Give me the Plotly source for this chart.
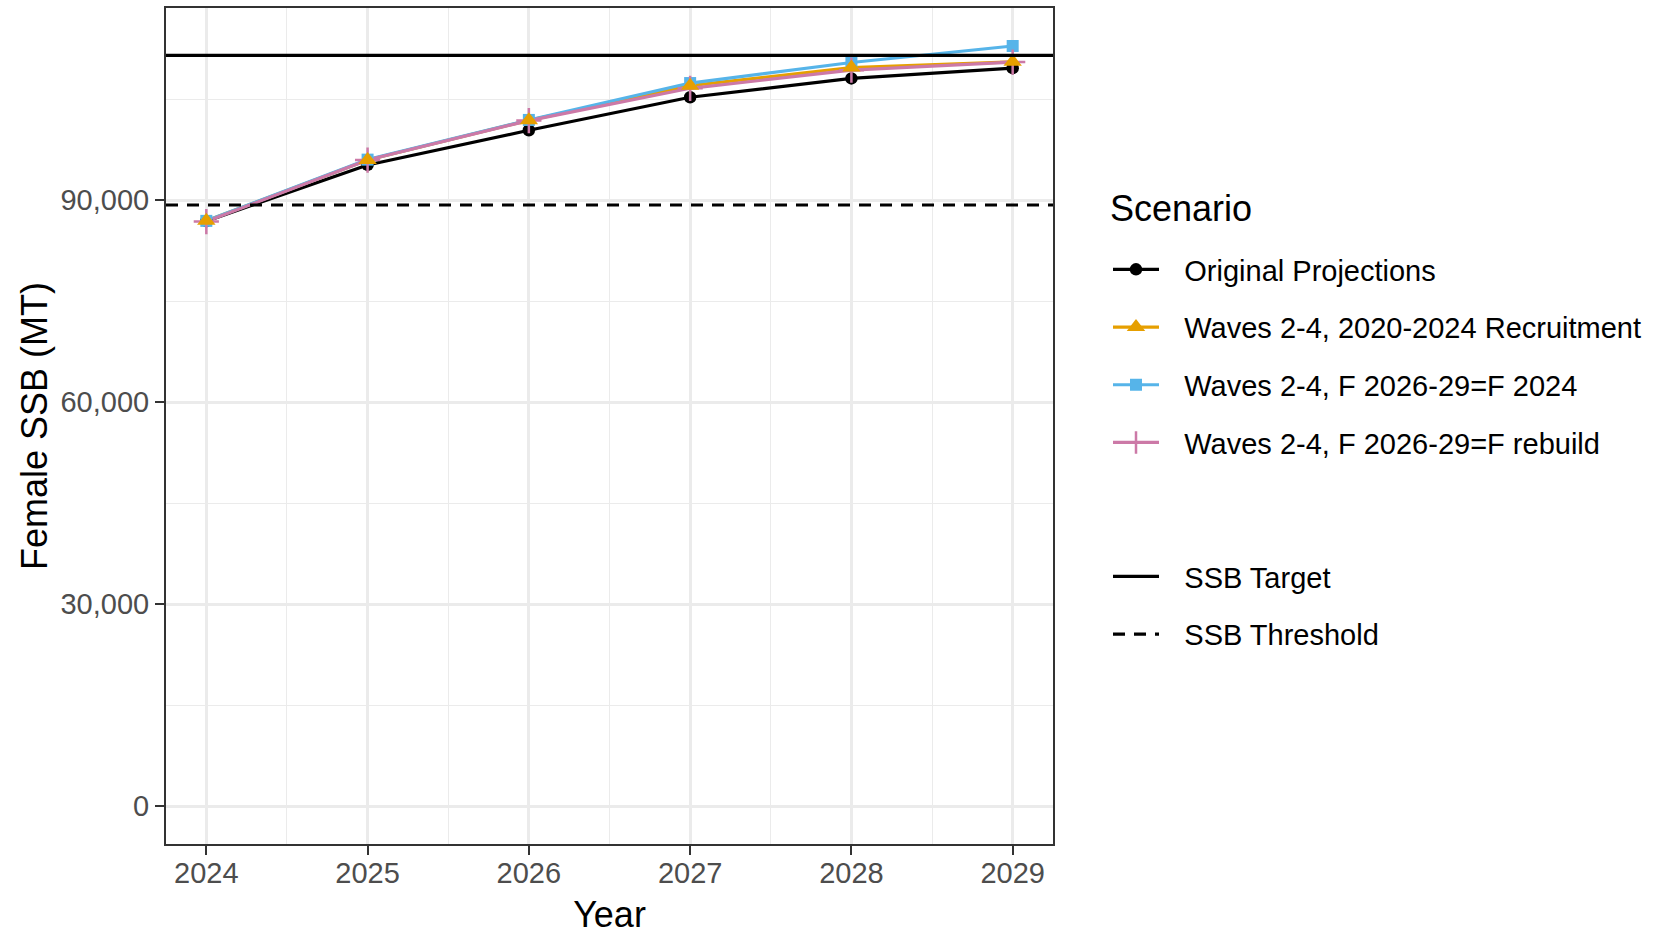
import plotly.graph_objects as go

years = [2024, 2025, 2026, 2027, 2028, 2029]
original = [86900, 95260, 100410, 105320, 108120, 109640]
waves_recruit = [86950, 96000, 101890, 107040, 109740, 110580]
waves_f2024 = [86950, 96050, 101950, 107430, 110480, 112940]
waves_frebuild = [86850, 95990, 101850, 106650, 109340, 110550]
SSB_TARGET = 111550
SSB_THRESHOLD = 89310

series_names = [
    "Original Projections",
    "Waves 2-4, 2020-2024 Recruitment",
    "Waves 2-4, F 2026-29=F 2024",
    "Waves 2-4, F 2026-29=F rebuild",
]
series_values = [original, waves_recruit, waves_f2024, waves_frebuild]
colors = ["#000000", "#E69F00", "#56B4E9", "#CC79A7"]
symbols = ["circle", "triangle-up", "square", "cross-thin"]
sizes = [12.5, 16, 12, 18]

FONT = "Liberation Sans, Arial, sans-serif"
PAD = "\u2002\u2009"
fig = go.Figure()


def marker(i):
    mk = dict(color=colors[i], symbol=symbols[i], size=sizes[i], line=dict(width=0))
    if symbols[i] == "cross-thin":
        mk["line"] = dict(width=2.5, color=colors[i])
    return mk


# lines layer
for i in [0, 1, 2, 3]:
    fig.add_trace(go.Scatter(x=years, y=series_values[i], mode="lines",
                             line=dict(color=colors[i], width=3.2),
                             showlegend=False, hoverinfo="skip"))
# points layer
for i in [0, 2, 3, 1]:
    fig.add_trace(go.Scatter(x=years, y=series_values[i], mode="markers", marker=marker(i),
                             showlegend=False, name=series_names[i]))
# legend entries
for i in range(4):
    fig.add_trace(go.Scatter(x=[None], y=[None], mode="lines+markers", name=PAD + series_names[i],
                             line=dict(color=colors[i], width=3.2), marker=marker(i),
                             legend="legend", legendgroup=f"g{i}"))

fig.add_shape(type="line", xref="paper", x0=0, x1=1, yref="y", y0=SSB_TARGET, y1=SSB_TARGET,
              line=dict(color="black", width=3.2), showlegend=True, name=PAD + "SSB Target",
              legend="legend2", legendgroup="t1")
fig.add_shape(type="line", xref="paper", x0=0, x1=1, yref="y", y0=SSB_THRESHOLD, y1=SSB_THRESHOLD,
              line=dict(color="black", width=3.2, dash="12px,9px"), showlegend=True,
              name=PAD + "SSB Threshold", legend="legend2", legendgroup="t2")

axis_common = dict(
    showline=True, linecolor="#333333", linewidth=2, mirror=True,
    ticks="outside", ticklen=9, tickwidth=2, tickcolor="#333333",
    tickfont=dict(size=29, color="#4D4D4D", family=FONT),
    showgrid=True, gridcolor="#EBEBEB", gridwidth=2.5, zeroline=False,
)

L, R, T, B = 166, 614, 6, 88
W, H = 1667, 935
pw, ph = W - L - R, H - T - B

fig.update_layout(
    width=W, height=H,
    margin=dict(l=L, r=R, t=T, b=B),
    paper_bgcolor="white", plot_bgcolor="white",
    font=dict(family=FONT, color="black"),
    xaxis=dict(**axis_common, range=[2023.75, 2029.25], tickvals=years,
               ticktext=[str(y) for y in years], ticklabelstandoff=-7,
               minor=dict(tick0=2024.5, dtick=1, showgrid=True, gridcolor="#EBEBEB", gridwidth=1.3, ticks=""),
               title=dict(text="Year", font=dict(size=36, color="black"), standoff=15)),
    yaxis=dict(**axis_common, range=[-5647, 118582], tickvals=[0, 30000, 60000, 90000],
               tickformat=",",
               minor=dict(tick0=15000, dtick=30000, showgrid=True, gridcolor="#EBEBEB", gridwidth=1.3, ticks=""),
               title=dict(text="Female SSB (MT)", font=dict(size=36, color="black"), standoff=2)),
    legend=dict(font=dict(size=29, color="black", family=FONT),
                xref="container", yref="container", x=1108 / W, y=1 - 244 / H,
                xanchor="left", yanchor="top", tracegroupgap=17, itemwidth=46,
                bgcolor="rgba(0,0,0,0)", traceorder="grouped"),
    legend2=dict(font=dict(size=29, color="black", family=FONT),
                 xref="container", yref="container", x=1108 / W, y=1 - 551 / H,
                 xanchor="left", yanchor="top", tracegroupgap=17, itemwidth=46,
                 bgcolor="rgba(0,0,0,0)", traceorder="grouped"),
    annotations=[dict(text="Scenario", xref="paper", yref="paper",
                      x=(1108 - L) / pw, y=(H - B - 208) / ph, xanchor="left", yanchor="middle",
                      showarrow=False, font=dict(size=36, color="black", family=FONT))],
    showlegend=True,
)

fig.write_html("out.html", config={"displayModeBar": False},
               post_script="document.body.style.margin='0px';")
